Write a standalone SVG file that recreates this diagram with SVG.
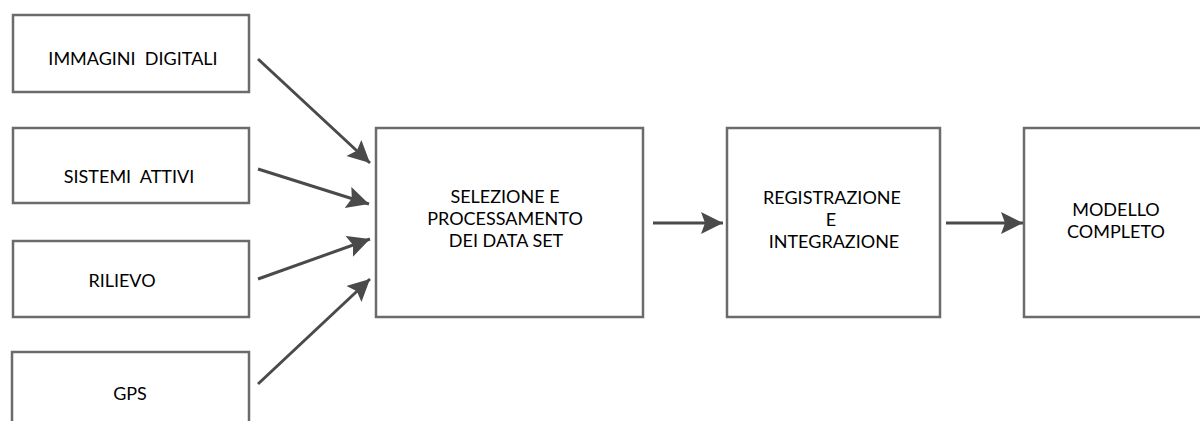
<svg xmlns="http://www.w3.org/2000/svg" width="1200" height="421" viewBox="0 0 1200 421">
  <style>
    .box { fill: #ffffff; stroke: #6b6b6b; stroke-width: 2.5; }
    .lbl { font-family: Lato, "Open Sans", "Liberation Sans", sans-serif; font-size: 18px; fill: #000000; text-anchor: middle; }
    .link { stroke: #4a4a4a; stroke-width: 3; fill: none; marker-end: url(#head); }
  </style>
  <defs>
    <marker id="head" markerUnits="userSpaceOnUse" markerWidth="24" markerHeight="24" refX="22" refY="11" orient="auto">
      <path d="M0,0 L22,11 L0,22 L4,11 Z" fill="#4a4a4a"/>
    </marker>
  </defs>
  <rect width="1200" height="421" fill="#ffffff"/>

  <g id="immagini-digitali">
    <rect class="box" x="13" y="15" width="236" height="77"/>
    <text class="lbl" x="133" y="65" xml:space="preserve">IMMAGINI  DIGITALI</text>
  </g>
  <g id="sistemi-attivi">
    <rect class="box" x="13" y="128" width="236" height="75"/>
    <text class="lbl" x="129" y="183" xml:space="preserve">SISTEMI  ATTIVI</text>
  </g>
  <g id="rilievo">
    <rect class="box" x="13" y="241" width="236" height="76"/>
    <text class="lbl" x="122" y="287">RILIEVO</text>
  </g>
  <g id="gps">
    <rect class="box" x="12" y="352" width="237" height="90"/>
    <text class="lbl" x="130" y="400">GPS</text>
  </g>

  <g id="selezione">
    <rect class="box" x="376" y="128" width="267" height="189"/>
    <text class="lbl" x="505" y="203">SELEZIONE E</text>
    <text class="lbl" x="505" y="225">PROCESSAMENTO</text>
    <text class="lbl" x="506" y="247">DEI DATA SET</text>
  </g>
  <g id="registrazione">
    <rect class="box" x="727" y="128" width="213" height="189"/>
    <text class="lbl" x="832" y="204">REGISTRAZIONE</text>
    <text class="lbl" x="831" y="226">E</text>
    <text class="lbl" x="834" y="248">INTEGRAZIONE</text>
  </g>
  <g id="modello">
    <rect class="box" x="1024" y="128" width="190" height="189"/>
    <text class="lbl" x="1116" y="216">MODELLO</text>
    <text class="lbl" x="1116" y="238">COMPLETO</text>
  </g>

  <g id="connectors">
    <line class="link" x1="258" y1="59" x2="370" y2="163"/>
    <line class="link" x1="258" y1="169" x2="369" y2="204"/>
    <line class="link" x1="258" y1="279" x2="370" y2="239"/>
    <line class="link" x1="258" y1="384" x2="370" y2="279"/>
    <line class="link" x1="653" y1="223" x2="723" y2="223"/>
    <line class="link" x1="946" y1="223" x2="1023" y2="223"/>
  </g>
</svg>
